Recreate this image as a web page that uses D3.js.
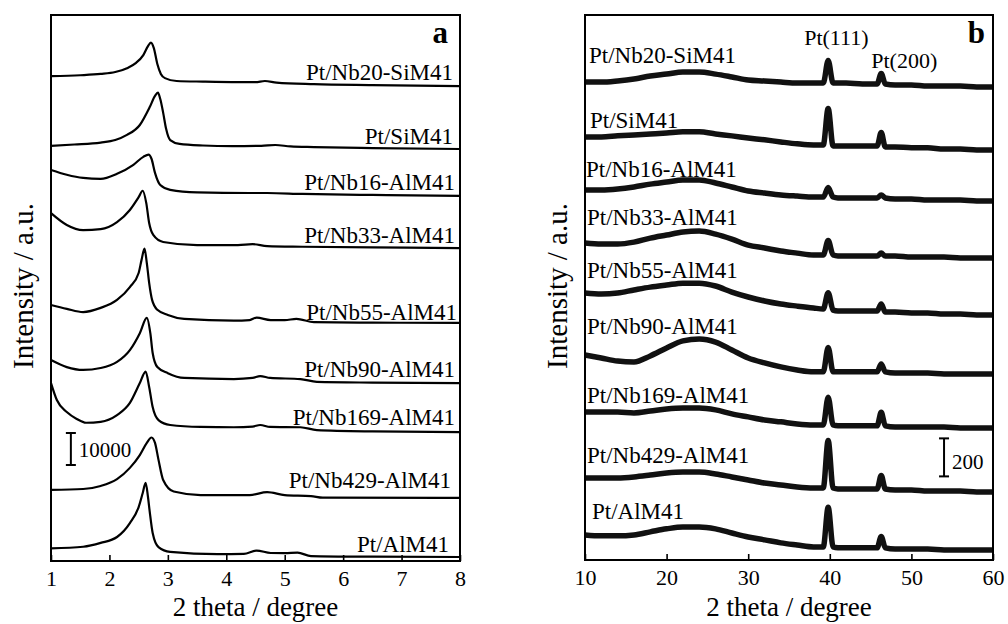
<!DOCTYPE html>
<html>
<head>
<meta charset="utf-8">
<script src="https://cdn.jsdelivr.net/npm/d3@7"></script>
<style>
  html, body { margin: 0; padding: 0; background: #fff; }
  svg { display: block; }
</style>
</head>
<body>
<svg id="chart" width="1008" height="624"></svg>
<script>
// ---------- data ----------
const sampleNames = ["Pt/Nb20-SiM41", "Pt/SiM41", "Pt/Nb16-AlM41", "Pt/Nb33-AlM41",
  "Pt/Nb55-AlM41", "Pt/Nb90-AlM41", "Pt/Nb169-AlM41", "Pt/Nb429-AlM41", "Pt/AlM41"];

// (a) low-angle patterns: [2 theta, counts above the stacking offset]
const lowOffsets = [148400, 128750, 114100, 97800, 74400, 55600, 40300, 19700, 1250];
const lowNb20SiM41 = [[1.0,3100],[1.5,3400],[1.85,3800],[2.1,4400],[2.3,5600],[2.45,7200],[2.58,9700],[2.66,12500],[2.71,13600],[2.76,11900],[2.82,6900],[2.88,3800],[2.95,2500],[3.15,1600],[3.6,1400],[4.2,1250],[4.5,1250],[4.66,1600],[4.86,1100],[5.5,600],[6.5,300],[8,0]];
const lowSiM41 = [[1.0,1000],[1.4,1400],[1.85,2000],[2.1,2800],[2.3,4400],[2.52,7500],[2.69,13100],[2.78,16600],[2.83,17600],[2.87,15600],[2.92,11300],[2.97,6300],[3.04,2800],[3.2,1600],[3.6,1100],[4.1,900],[4.6,1000],[4.84,1250],[5.1,800],[5.5,600],[6.5,300],[8,0]];
const lowNb16AlM41 = [[1.0,8100],[1.27,6600],[1.55,5600],[1.85,5300],[2.13,6900],[2.41,9700],[2.58,12200],[2.67,12900],[2.72,11600],[2.78,7200],[2.87,3400],[3.04,1900],[3.5,1100],[4.4,900],[4.7,900],[5.3,600],[6.5,300],[8,0]];
const lowNb33AlM41 = [[1.0,10900],[1.27,7200],[1.55,5600],[1.85,5900],[2.13,8100],[2.35,11900],[2.5,15900],[2.57,17900],[2.63,14100],[2.68,7800],[2.75,4100],[2.92,1900],[3.5,900],[4.2,900],[4.45,1200],[4.7,600],[5.3,400],[6.5,200],[8,0]];
const lowNb55AlM41 = [[1.0,5600],[1.27,4400],[1.55,3400],[1.85,4700],[2.13,7200],[2.35,11200],[2.5,15600],[2.55,19700],[2.6,23200],[2.64,18700],[2.68,12500],[2.73,7200],[2.82,4100],[3.0,2500],[3.28,1250],[4.13,700],[4.4,900],[4.52,1650],[4.76,900],[5.0,900],[5.2,1250],[5.5,250],[6.5,100],[8,0]];
const lowNb90AlM41 = [[1.0,7200],[1.27,5000],[1.55,4100],[1.85,4700],[2.13,6600],[2.35,10300],[2.52,15600],[2.64,20400],[2.7,15600],[2.74,9400],[2.82,5000],[3.0,3100],[3.28,1600],[4.13,1250],[4.45,1600],[4.58,2200],[4.75,1600],[5.27,1250],[5.55,400],[6.5,150],[8,0]];
const lowNb169AlM41 = [[1.0,15300],[1.1,10000],[1.27,6250],[1.44,4100],[1.6,2900],[1.85,3200],[2.13,5300],[2.35,9100],[2.52,15300],[2.62,18900],[2.68,14100],[2.74,7800],[2.84,3750],[3.04,2200],[3.56,1600],[4.13,1500],[4.45,1700],[4.58,2200],[4.75,1600],[5.27,1500],[5.55,600],[6.5,200],[8,0]];
const lowNb429AlM41 = [[1.0,2500],[1.55,2800],[1.85,3750],[2.13,5900],[2.35,9400],[2.52,13400],[2.64,17200],[2.72,18900],[2.78,17200],[2.84,11900],[2.92,5600],[3.1,2000],[3.56,900],[4.4,900],[4.7,1800],[5.0,900],[5.45,600],[5.65,100],[8,0]];
const lowAlM41 = [[1.0,2700],[1.55,3200],[1.85,4400],[2.13,6250],[2.35,10600],[2.5,15600],[2.57,20000],[2.62,23200],[2.66,18750],[2.69,14100],[2.74,7500],[2.84,3100],[3.04,1600],[3.85,900],[4.3,1000],[4.52,2000],[4.76,1250],[5.0,1200],[5.22,1350],[5.45,300],[6.5,100],[8,0]];
const lowSeries = [lowNb20SiM41, lowSiM41, lowNb16AlM41, lowNb33AlM41, lowNb55AlM41,
  lowNb90AlM41, lowNb169AlM41, lowNb429AlM41, lowAlM41];

// (b) wide-angle patterns: counts above the stacking offset on a shared 2 theta grid
const wideTheta = [10,12,14,16,18,20,22,24,26,28,30,32,34,36,38,39.2,39.8,40.4,41,42,44,45.8,46.3,46.8,48,50,52,54,56,58,60];
const wideOffsets = [2489, 2158, 1889, 1589, 1289, 979, 695, 358, 53];
const wideNb20SiM41 = [26,26,32,42,58,68,79,79,68,53,37,32,26,21,21,21,139,21,21,21,16,16,71,16,11,11,5,5,5,0,0];
const wideSiM41     = [68,68,74,79,84,89,95,95,84,74,63,53,42,32,26,26,218,21,21,21,21,21,92,16,16,11,11,5,5,0,0];
const wideNb16AlM41 = [58,58,63,74,89,100,111,111,95,74,53,42,32,26,21,21,71,21,16,16,16,16,32,16,11,11,5,5,5,0,0];
const wideNb33AlM41 = [79,74,74,84,105,121,137,142,126,100,68,53,37,26,16,16,92,16,11,11,11,11,26,11,11,5,5,5,0,0,0];
const wideNb55AlM41 = [116,111,116,132,147,158,168,168,153,121,95,74,58,47,37,32,118,26,21,21,21,21,58,16,16,11,11,5,5,0,0];
const wideNb90AlM41 = [100,84,68,63,95,137,174,184,168,126,84,58,37,21,11,11,139,11,11,11,11,11,53,11,5,5,5,0,0,0,0];
const wideNb169AlM41 = [84,84,84,79,89,100,105,105,95,74,58,42,32,21,16,16,161,16,11,11,11,11,82,11,5,5,5,5,0,0,0];
const wideNb429AlM41 = [74,74,74,79,89,100,105,105,95,79,63,47,37,26,21,21,271,21,16,16,16,16,87,16,11,11,5,5,5,0,0];
const wideAlM41     = [79,74,74,79,95,111,121,121,111,89,68,53,37,26,16,16,224,16,11,11,11,11,71,11,5,5,5,0,0,0,0];
const wideSeries = [wideNb20SiM41, wideSiM41, wideNb16AlM41, wideNb33AlM41, wideNb55AlM41,
  wideNb90AlM41, wideNb169AlM41, wideNb429AlM41, wideAlM41];

// axis ticks and annotations
const lowTicks = [1, 2, 3, 4, 5, 6, 7, 8];
const wideTicks = [10, 20, 30, 40, 50, 60];
const reflectionNames = ["Pt(111)", "Pt(200)"];
const reflectionAngles = [39.8, 46.3];
const lowScaleBar = [30000, 40000];   // 10000 counts
const wideScaleBar = [440, 640];      // 200 counts

// ---------- layout ----------
const FONT = '"Liberation Serif", "Times New Roman", Times, serif';
const svg = d3.select("#chart");

const xA = d3.scaleLinear().domain([1, 8]).range([51, 460]);
const yA = d3.scaleLinear().domain([0, 170625]).range([561, 15]);
const xB = d3.scaleLinear().domain([10, 60]).range([585, 993]);
const yB = d3.scaleLinear().domain([0, 2868]).range([560, 15]);

// label nudges in pixels (right edge / baseline)
const lowLabelDx = [7, 7, 5, 5, 3, 5, 5, 9, 11];
const lowLabelDy = [6, 5, 6, 5, 3, 6, 7, 10, 5];
const wideLabelDx = [4, 5, 1, 2, 2, 2, 2, 2, 7];
const wideLabelDy = [19, 9, 13, 18, 15, 21, 9, 15, 16];

// ---------- panel a ----------
const gA = svg.append("g");
const lineA = d3.line()
  .x(d => xA(d[0]))
  .y(d => yA(d[1]))
  .curve(d3.curveMonotoneX);

lowSeries.forEach((s, i) => {
  const pts = s.map(d => [d[0], d[1] + lowOffsets[i]]);
  gA.append("path")
    .attr("d", lineA(pts))
    .attr("fill", "none")
    .attr("stroke", "#000")
    .attr("stroke-width", 2.2)
    .attr("stroke-linejoin", "round");
  gA.append("text")
    .attr("x", xA(8) - lowLabelDx[i])
    .attr("y", yA(lowOffsets[i]) - lowLabelDy[i])
    .attr("text-anchor", "end")
    .attr("font-family", FONT)
    .attr("font-size", 23)
    .text(sampleNames[i]);
});

// ---------- panel b ----------
const gB = svg.append("g");
const lineB = d3.line()
  .x(d => xB(d[0]))
  .y(d => yB(d[1]))
  .curve(d3.curveMonotoneX);

wideSeries.forEach((s, i) => {
  const pts = s.map((v, k) => [wideTheta[k], v + wideOffsets[i]]);
  gB.append("path")
    .attr("d", lineB(pts))
    .attr("fill", "none")
    .attr("stroke", "#111")
    .attr("stroke-width", 5.5)
    .attr("stroke-linejoin", "round");
  gB.append("text")
    .attr("x", xB(10) + wideLabelDx[i])
    .attr("y", yB(wideOffsets[i] + s[0]) - wideLabelDy[i])
    .attr("font-family", FONT)
    .attr("font-size", 23)
    .text(sampleNames[i]);
});

// reflection labels
gB.append("text").attr("x", xB(reflectionAngles[0]) - 24).attr("y", 45)
  .attr("font-family", FONT).attr("font-size", 22).text(reflectionNames[0]);
gB.append("text").attr("x", xB(reflectionAngles[1]) - 10).attr("y", 68)
  .attr("font-family", FONT).attr("font-size", 22).text(reflectionNames[1]);

// ---------- axes, frames, titles ----------
function drawAxis(g, x, ticks, yPos) {
  const ax = g.append("g")
    .attr("transform", `translate(0,${yPos})`)
    .call(d3.axisBottom(x).tickValues(ticks).tickSize(-6).tickSizeOuter(0).tickFormat(d3.format("d")));
  ax.select(".domain").remove();
  ax.selectAll(".tick line").attr("stroke", "#000").attr("stroke-width", 1.6);
  ax.selectAll(".tick text")
    .attr("y", 25).attr("dy", 0)
    .attr("font-family", FONT).attr("font-size", 22).attr("fill", "#000");
}
drawAxis(gA, xA, lowTicks, 561);
drawAxis(gB, xB, wideTicks, 560);

function frame(x, y) {
  svg.append("rect")
    .attr("x", x.range()[0]).attr("y", y.range()[1])
    .attr("width", x.range()[1] - x.range()[0])
    .attr("height", y.range()[0] - y.range()[1])
    .attr("fill", "none").attr("stroke", "#000").attr("stroke-width", 2);
}
frame(xA, yA);
frame(xB, yB);

function xTitle(x) {
  svg.append("text")
    .attr("x", (x.range()[0] + x.range()[1]) / 2).attr("y", 616)
    .attr("text-anchor", "middle")
    .attr("font-family", FONT).attr("font-size", 27)
    .text("2 theta / degree");
}
xTitle(xA);
xTitle(xB);

function yTitle(xPos) {
  svg.append("text")
    .attr("transform", `translate(${xPos},286) rotate(-90)`)
    .attr("text-anchor", "middle")
    .attr("font-family", FONT).attr("font-size", 29)
    .text("Intensity / a.u.");
}
yTitle(33);
yTitle(567);

// panel letters
svg.append("text").attr("x", 448).attr("y", 43).attr("text-anchor", "end")
  .attr("font-family", FONT).attr("font-size", 31).attr("font-weight", "bold").text("a");
svg.append("text").attr("x", 985).attr("y", 43).attr("text-anchor", "end")
  .attr("font-family", FONT).attr("font-size", 31).attr("font-weight", "bold").text("b");

// scale bars
function scaleBar(g, xPos, y, range, label, textDy) {
  const y0 = y(range[0]), y1 = y(range[1]);
  g.append("line").attr("x1", xPos).attr("x2", xPos).attr("y1", y0).attr("y2", y1)
    .attr("stroke", "#000").attr("stroke-width", 2);
  [y0, y1].forEach(yy => g.append("line")
    .attr("x1", xPos - 5).attr("x2", xPos + 5).attr("y1", yy).attr("y2", yy)
    .attr("stroke", "#000").attr("stroke-width", 2));
  g.append("text").attr("x", xPos + 8).attr("y", (y0 + y1) / 2 + textDy)
    .attr("font-family", FONT).attr("font-size", 21).text(label);
}
scaleBar(gA, xA(1.34), yA, lowScaleBar, "10000", 8);
scaleBar(gB, xB(54), yB, wideScaleBar, "200", 12);
</script>
</body>
</html>
